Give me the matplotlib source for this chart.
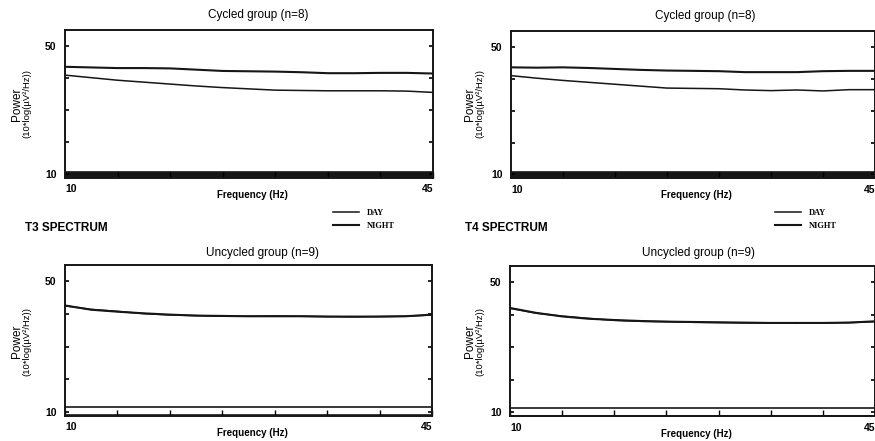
import numpy as np
import matplotlib
matplotlib.use("Agg")
import matplotlib.pyplot as plt

plt.rcParams['font.family'] = ['Liberation Sans', 'DejaVu Sans']

freq = [10, 12.5, 15, 17.5, 20, 22.5, 25, 27.5, 30, 32.5, 35, 37.5, 40, 42.5, 45]

# T3, cycled group (n=8)
t3_cyc_night = [43.5, 43.3, 43.1, 43.1, 43.0, 42.6, 42.2, 42.1, 42.0, 41.8, 41.5, 41.5, 41.6, 41.6, 41.4]
t3_cyc_day = [40.9, 40.1, 39.3, 38.7, 38.1, 37.5, 37.0, 36.6, 36.2, 36.1, 36.0, 36.0, 36.0, 35.9, 35.5]
# T4, cycled group (n=8)
t4_cyc_night = [43.6, 43.5, 43.6, 43.4, 43.1, 42.8, 42.6, 42.5, 42.4, 42.1, 42.1, 42.1, 42.4, 42.5, 42.5]
t4_cyc_day = [41.0, 40.2, 39.5, 38.9, 38.3, 37.7, 37.1, 37.0, 36.9, 36.5, 36.3, 36.5, 36.2, 36.6, 36.6]
# T3, uncycled group (n=9)
t3_unc_night = [42.6, 41.3, 40.7, 40.2, 39.8, 39.5, 39.4, 39.3, 39.3, 39.3, 39.2, 39.2, 39.2, 39.3, 39.8]
t3_unc_day = [42.5, 41.4, 40.8, 40.1, 39.7, 39.5, 39.3, 39.3, 39.4, 39.3, 39.2, 39.1, 39.2, 39.3, 39.7]
# T4, uncycled group (n=9)
t4_unc_night = [42.1, 40.6, 39.5, 38.8, 38.4, 38.1, 37.9, 37.8, 37.7, 37.6, 37.5, 37.5, 37.5, 37.6, 38.0]
t4_unc_day = [42.0, 40.5, 39.6, 38.9, 38.3, 38.0, 37.9, 37.7, 37.6, 37.5, 37.5, 37.4, 37.5, 37.6, 37.9]

# significance bar along the bottom (filled = significant day/night difference)
sig_cycled = [9.0, 10.7]
sig_uncycled = [9.0, 11.5]

x_ticks = [10, 15, 20, 25, 30, 35, 40, 45]
x_ticklabels = ['10', '', '', '', '', '', '', '45']
y_ticks = [10, 20, 30, 40, 50]
y_ticklabels = ['10', '', '', '', '50']

W, H = 875, 441
fig = plt.figure(figsize=(W / 100, H / 100), dpi=100)


def px_axes(l, t, r, b):
    return fig.add_axes([l / W, 1 - b / H, (r - l) / W, (b - t) / H])


panels = [
    # left, top, right, bottom (px), day, night, sig, filled
    ((65, 30, 433, 177.5), t3_cyc_day, t3_cyc_night, sig_cycled, True),
    ((511, 31, 875, 178), t4_cyc_day, t4_cyc_night, sig_cycled, True),
    ((65, 265, 432, 415.5), t3_unc_day, t3_unc_night, sig_uncycled, False),
    ((510, 266, 875, 416), t4_unc_day, t4_unc_night, sig_uncycled, False),
]

ink = '#161616'
axes = []
for box, day, night, sig, filled in panels:
    ax = px_axes(*box)
    axes.append(ax)
    ax.plot(freq, day, color=ink, lw=1.1, label='DAY')
    ax.plot(freq, night, color=ink, lw=1.5, label='NIGHT')
    ax.fill_between([10, 45], sig[0], sig[1],
                    facecolor=ink if filled else 'white',
                    edgecolor=ink, lw=1.2, zorder=1)
    ax.set_xlim(10, 45)
    ax.set_ylim(8.9, 55)
    ax.set_xticks(x_ticks)
    ax.set_xticklabels(x_ticklabels, fontsize=7.5, fontweight='bold')
    lbls = ax.get_xticklabels()
    lbls[0].set_ha('left')
    lbls[-1].set_ha('right')
    ax.set_yticks(y_ticks)
    ax.set_yticklabels(y_ticklabels, fontsize=7.5, fontweight='bold')
    ax.tick_params(axis='x', direction='in', length=4, width=1, pad=5)
    ax.tick_params(axis='y', direction='in', length=3, width=1.2, pad=6,
                   right=True)
    for s in ax.spines.values():
        s.set_linewidth(1.4)
        s.set_color(ink)
    ax.set_xlabel('Frequency (Hz)', fontsize=7, fontweight='bold')
    ax.xaxis.set_label_coords(0.51, -0.085)

# titles
fig.text(258 / W, 1 - 15 / H, 'Cycled group (n=8)', fontsize=8.5, ha='center', va='center')
fig.text(705 / W, 1 - 16 / H, 'Cycled group (n=8)', fontsize=8.5, ha='center', va='center')
fig.text(263 / W, 1 - 253 / H, 'Uncycled group (n=9)', fontsize=8.5, ha='center', va='center')
fig.text(698 / W, 1 - 253 / H, 'Uncycled group (n=9)', fontsize=8.5, ha='center', va='center')

fig.text(25 / W, 1 - 228 / H, 'T3 SPECTRUM', fontsize=8.5, fontweight='bold', va='center')
fig.text(465 / W, 1 - 228 / H, 'T4 SPECTRUM', fontsize=8.5, fontweight='bold', va='center')

# y labels
for x0, ycen in [(17, 104), (470, 104), (17, 341), (470, 341)]:
    fig.text(x0 / W, 1 - ycen / H, 'Power', rotation=90, fontsize=8.5,
             ha='center', va='center')
    fig.text((x0 + 10) / W, 1 - ycen / H, '(10*log(\u00b5V\u00b2/Hz))', rotation=90,
             fontsize=6.8, ha='center', va='center')

# legends
h, l = axes[0].get_legend_handles_labels()
for lx in (333, 775):
    fig.legend(h, l, loc='upper left', bbox_to_anchor=(lx / W, 1 - 209 / H),
               frameon=False, borderpad=0, borderaxespad=0, handlelength=3.1,
               handletextpad=0.9, labelspacing=0.55,
               prop={'family': 'Liberation Serif', 'weight': 'bold', 'size': 6})

fig.savefig('out.png', dpi=100)
